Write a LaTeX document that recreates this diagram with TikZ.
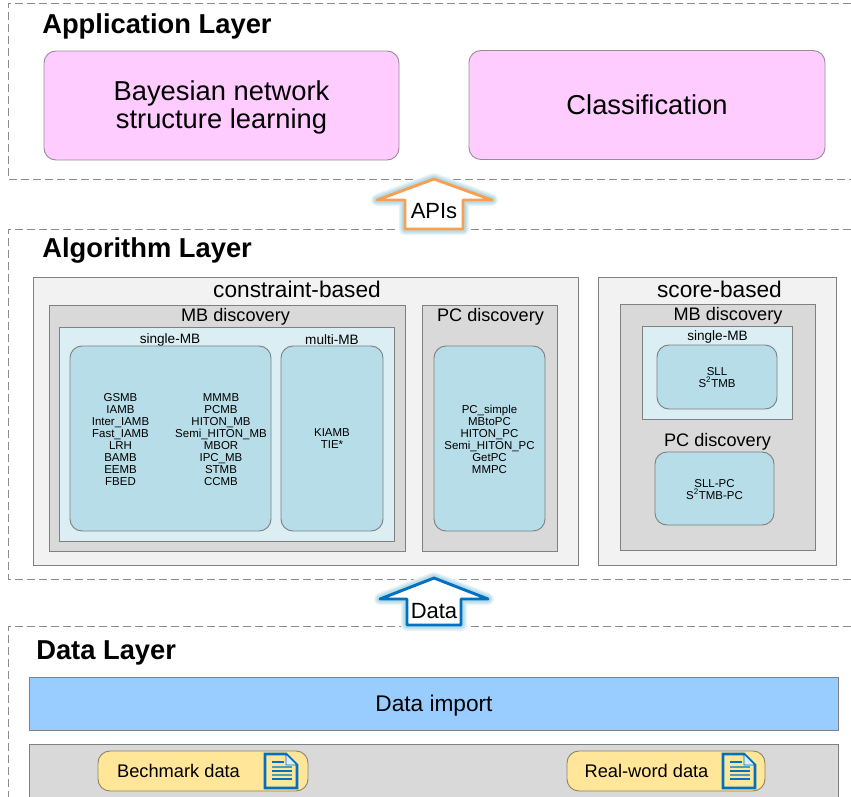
\documentclass[tikz,border=0pt]{standalone}
\usepackage{fontspec}
\setmainfont{Liberation Sans}
\usepackage{tikz}

\definecolor{pinkbox}{HTML}{FFCCFF}
\definecolor{pinkline}{HTML}{9A8A9A}
\definecolor{palegrey}{HTML}{F2F2F2}
\definecolor{midgrey}{HTML}{D9D9D9}
\definecolor{paleblue}{HTML}{DAEEF3}
\definecolor{algoblue}{HTML}{B7DDE8}
\definecolor{importblue}{HTML}{99CCFF}
\definecolor{datayellow}{HTML}{FFE699}
\definecolor{yellowline}{HTML}{8F8566}
\definecolor{apiorange}{HTML}{F79F55}
\definecolor{datablue}{HTML}{0070C0}
\definecolor{docteal}{HTML}{4F9DB8}

\tikzset{
  px/.style 2 args={minimum width=#1*0.75pt,minimum height=#2*0.75pt},
  layer/.style={draw=black!45,dash pattern=on 6pt off 3pt,line width=0.6pt},
  flat/.style={rectangle,draw=black!50,line width=0.7pt,inner sep=0pt,outer sep=0pt},
  round/.style={flat,rounded corners=9pt},
  upload/.style={line width=2.2pt,fill=white,line join=round,
    preaction={draw=algoblue!35,line width=9pt,line join=round},
    preaction={draw=algoblue!65,line width=7pt,line join=round},
    preaction={draw=algoblue,line width=5pt,line join=round}},
  title/.style={font=\fontsize{20.5}{22}\selectfont\bfseries,anchor=west,inner sep=0pt},
  big/.style={font=\fontsize{20.5}{21}\selectfont,align=center,inner sep=0pt},
  head/.style={font=\fontsize{17}{20}\selectfont,inner sep=0pt},
  sub/.style={font=\fontsize{13.6}{16}\selectfont,inner sep=0pt},
  small/.style={font=\fontsize{10.2}{12}\selectfont,inner sep=0pt},
  algo/.style={font=\fontsize{8.6}{9}\selectfont,align=center,inner sep=0pt},
  filetext/.style={font=\fontsize{13.7}{15}\selectfont,inner sep=0pt},
  flowtext/.style={font=\fontsize{16.5}{18}\selectfont,inner sep=0pt},
  docicon/.pic={
    \draw[datablue,line width=1.9pt,line join=miter]
      (-16,-17) -- (5,-17) -- (16,-6) -- (16,17) -- (-16,17) -- cycle;
    \draw[datablue,line width=0.7pt,fill=paleblue] (5,-17) -- (5,-6) -- (16,-6) -- cycle;
    \draw[datablue,line width=0.9pt] (-9,-9) -- (3,-9);
    \draw[docteal,line width=1pt] (-9,-4) -- (11,-4);
    \draw[datablue,line width=1pt] (-9,0) -- (11,0);
    \draw[docteal,line width=1pt] (-9,4) -- (11,4);
    \draw[datablue,line width=1pt] (-9,8) -- (11,8);
  },
}

\begin{document}
\begin{tikzpicture}[x=0.75pt,y=-0.75pt]
  \useasboundingbox (0,0) rectangle (851,797);

  % layers
  \coordinate (app nw) at (8,3);
  \coordinate (app ne) at (851,3);
  \coordinate (app sw) at (8,179);
  \coordinate (app se) at (851,179);
  \coordinate (algo nw) at (8,229);
  \coordinate (algo ne) at (851,229);
  \coordinate (algo sw) at (8,579);
  \coordinate (algo se) at (851,579);
  \coordinate (data nw) at (8,626);
  \coordinate (data ne) at (851,626);
  \coordinate (data sw) at (8,797);
  \draw[layer] (app ne) -- (app nw) -- (app sw) -- (app se);
  \draw[layer] (algo ne) -- (algo nw) -- (algo sw) -- (algo se);
  \draw[layer] (data ne) -- (data nw) -- (data sw);

  % application layer
  \node[title] (apptitle) at (42,26) {Application Layer};
  \node[round,fill=pinkbox,draw=pinkline,px={355}{109}] (bnsl) at (221.5,105.5) {};
  \node[big] (bnsltext) at (221.5,107) {Bayesian network\\structure learning};
  \node[round,fill=pinkbox,draw=pinkline,px={356}{109},big] (classif) at (647,105) {Classification};

  % algorithm layer
  \node[title] (algotitle) at (42,250) {Algorithm Layer};

  \node[flat,fill=palegrey,px={545}{288}] (constraint) at (305.5,421) {};
  \node[head] (constrainttext) at (297,289) {constraint-based};
  \node[flat,fill=midgrey,px={356}{246}] (mb) at (227,428) {};
  \node[sub] (mbtext) at (235.5,317) {MB discovery};
  \node[flat,fill=paleblue,px={335}{214}] (mbinner) at (226.5,434) {};
  \node[small] (singletext) at (170,340) {single-MB};
  \node[small] (multitext) at (332,340) {multi-MB};
  \node[round,fill=algoblue,px={201}{185}] (single) at (170.5,438.5) {};
  \node[round,fill=algoblue,px={102}{185}] (multi) at (332,438.5) {};
  \node[algo] (singleleft) at (120.5,439.5) {GSMB\\IAMB\\Inter\_IAMB\\Fast\_IAMB\\LRH\\BAMB\\EEMB\\FBED};
  \node[algo] (singleright) at (221,439.5) {MMMB\\PCMB\\HITON\_MB\\Semi\_HITON\_MB\\MBOR\\IPC\_MB\\STMB\\CCMB};
  \node[algo] (multilist) at (332,439) {KIAMB\\TIE*};

  \node[flat,fill=midgrey,px={135}{246}] (pc) at (489.5,428) {};
  \node[sub] (pctext) at (490.5,317) {PC discovery};
  \node[round,fill=algoblue,px={111}{185}] (pclist) at (489.5,438.5) {};
  \node[algo] (pcalgos) at (489.5,439) {PC\_simple\\MBtoPC\\HITON\_PC\\Semi\_HITON\_PC\\GetPC\\MMPC};

  \node[flat,fill=palegrey,px={238}{288}] (score) at (717,421) {};
  \node[head] (scoretext) at (719.5,289.5) {score-based};
  \node[flat,fill=midgrey,px={195}{246}] (smb) at (717.5,427) {};
  \node[sub] (smbtext) at (728,316) {MB discovery};
  \node[flat,fill=paleblue,px={150}{93}] (smbinner) at (717,372.5) {};
  \node[small] (ssingletext) at (717.5,337) {single-MB};
  \node[round,fill=algoblue,px={120}{64}] (ssingle) at (717,377) {};
  \node[algo] (ssinglelist) at (717,377.5) {SLL\\S\textsuperscript{2}TMB};
  \node[sub] (spctext) at (717.5,442) {PC discovery};
  \node[round,fill=algoblue,px={119}{73}] (spc) at (714.5,488.5) {};
  \node[algo] (spclist) at (714.5,489.5) {SLL-PC\\S\textsuperscript{2}TMB-PC};

  % data layer
  \node[title] (datatitle) at (36,653) {Data Layer};
  \node[flat,fill=importblue,px={809}{53}] (import) at (434,703.5) {};
  \node[head] (importtext) at (434,706) {Data import};
  \node[flat,fill=midgrey,px={809}{53}] (source) at (434,770.5) {};
  \node[round,fill=datayellow,draw=yellowline,px={210}{40}] (bench) at (203,771) {};
  \node[round,fill=datayellow,draw=yellowline,px={198}{40}] (real) at (666,771) {};
  \node[filetext] (benchtext) at (178.5,771) {Bechmark data};
  \node[filetext] (realtext) at (646.5,771) {Real-word data};
  \pic (benchdoc) at (281,771) {docicon};
  \pic (realdoc) at (739,771) {docicon};

  % interfaces between the layers
  \draw[upload,draw=apiorange] (434,179) -- (492,200) -- (463,200) -- (463,229) -- (405,229) -- (405,200) -- (377,200) -- cycle;
  \node[flowtext] (apistext) at (434,211) {APIs};
  \draw[upload,draw=datablue] (434,578) -- (488,599) -- (461,599) -- (461,625) -- (407,625) -- (407,599) -- (380,599) -- cycle;
  \node[flowtext] (datatext) at (434,611) {Data};
\end{tikzpicture}
\end{document}
